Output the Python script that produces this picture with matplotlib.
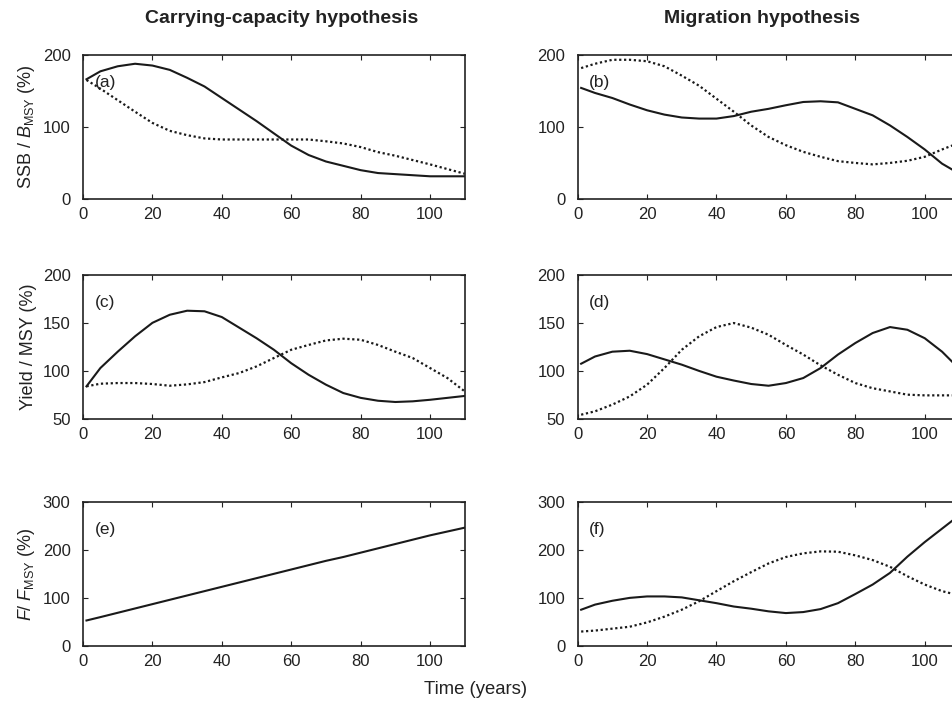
import numpy as np
import matplotlib.pyplot as plt

plt.rcParams['font.family'] = ['Liberation Sans', 'DejaVu Sans']
plt.rcParams['mathtext.fontset'] = 'custom'
plt.rcParams['mathtext.rm'] = 'Liberation Sans'
plt.rcParams['mathtext.it'] = 'Liberation Sans:italic'

# years at which values were read
t = [1, 5, 10, 15, 20, 25, 30, 35, 40, 45, 50, 55, 60, 65, 70, 75, 80, 85, 90, 95, 100, 105, 110]

# (a) SSB / Bmsy, carrying-capacity
a_solid = [166, 177, 184, 187.5, 185, 179, 168, 156, 140, 124, 108, 91, 74, 61, 52, 46, 40, 36, 34.5, 33, 31.5, 31.5, 31.5]
a_dot = [165, 153, 137, 121, 105.5, 94.5, 88.5, 84, 82.5, 82.5, 82.5, 82.5, 82.5, 82.5, 80, 77, 72, 65, 60, 54, 48, 41.5, 35]
# (b) SSB / Bmsy, migration
b_solid = [154, 147, 140, 131, 123, 117, 113, 111.5, 111.5, 115, 121, 125, 130, 134.5, 135.5, 134, 125, 116, 102, 86, 68.7, 49, 35]
b_dot = [181.5, 187.5, 193, 193, 191, 184, 171, 157, 139, 121, 102, 86, 74.6, 65.4, 58.5, 52.5, 50, 48, 50, 53, 58.5, 68.7, 78]
# (c) Yield / MSY, carrying-capacity
c_solid = [84, 103, 120, 136, 150, 158.4, 162.6, 162, 156, 145, 134, 122, 108, 96, 85.7, 77, 72, 69, 67.7, 68.4, 70, 72, 74]
c_dot = [84, 86.7, 87.4, 87.4, 86.4, 84.6, 86, 88.4, 93.3, 97.8, 104.7, 113.4, 122, 127, 131.7, 133.5, 132.4, 127, 120, 113.4, 103, 92.6, 78.7]
# (d) Yield / MSY, migration
d_solid = [107.5, 115, 120, 121, 117.5, 112, 106.5, 100, 94, 90, 86.4, 84.6, 87.4, 92.6, 103, 117, 129, 139.4, 145.6, 142.8, 134, 120, 102]
d_dot = [54.5, 58, 65, 73.5, 85.7, 103, 122, 136, 145.6, 149.8, 145, 137.6, 127, 117, 105.8, 96, 87.4, 82, 78.7, 75.3, 74.6, 74.6, 74.6]
# (e) F / Fmsy, carrying-capacity
e_solid = [53, 60, 69, 78, 87, 96, 105, 114, 123, 132, 141, 150, 159, 168, 177, 185, 194, 203, 212, 221, 230, 238, 246]
# (f) F / Fmsy, migration
f_solid = [75.4, 86, 94, 100, 103, 103, 101, 95, 89, 82, 77.5, 72, 68.4, 70.5, 76.7, 89, 108, 127.7, 152, 185.7, 216, 244, 272]
f_dot = [30, 32, 36, 40, 49, 61, 75.4, 93, 114, 134.7, 153.5, 171.6, 185, 192.6, 196.7, 196, 188.4, 178.6, 164.6, 145, 127.7, 114, 105]

panels = [
    ('(a)', a_solid, a_dot, (0, 200), [0, 100, 200]),
    ('(b)', b_solid, b_dot, (0, 200), [0, 100, 200]),
    ('(c)', c_solid, c_dot, (50, 200), [50, 100, 150, 200]),
    ('(d)', d_solid, d_dot, (50, 200), [50, 100, 150, 200]),
    ('(e)', e_solid, None, (0, 300), [0, 100, 200, 300]),
    ('(f)', f_solid, f_dot, (0, 300), [0, 100, 200, 300]),
]
ylabels = ['SSB / $\\mathit{B}_{\\mathrm{MSY}}$ (%)', 'Yield / MSY (%)',
           '$\\mathit{F}$/ $\\mathit{F}_{\\mathrm{MSY}}$ (%)']

fig = plt.figure(figsize=(9.52, 7.09), dpi=100)
lefts = [0.0872, 0.6068]
bottoms = [0.7193, 0.409, 0.0889]
w, h = 0.401, 0.2035

for i, (lab, ys, yd, ylim, yt) in enumerate(panels):
    row, col = divmod(i, 2)
    ax = fig.add_axes([lefts[col], bottoms[row], w, h])
    ax.plot(t, ys, color='#1a1a1a', lw=1.5)
    if yd is not None:
        ax.plot(t, yd, color='#1a1a1a', lw=1.6, ls=(0, (1, 1.2)))
    ax.set_xlim(0, 110)
    ax.set_ylim(*ylim)
    ax.set_xticks([0, 20, 40, 60, 80, 100])
    ax.set_yticks(yt)
    ax.tick_params(direction='in', top=True, right=True, length=3.5, labelsize=12,
                   colors='#222222')
    ax.tick_params(axis='y', pad=9)
    ax.tick_params(axis='x', pad=6)
    for s in ax.spines.values():
        s.set_linewidth(1.2)
        s.set_color('#222222')
    ax.text(0.03, 0.81, lab, transform=ax.transAxes, fontsize=12.5, va='center', ha='left',
            color='#222222')
    if col == 0:
        ax.set_ylabel(ylabels[row], fontsize=13, color='#222222', labelpad=4)

fig.text(0.296, 0.974, 'Carrying-capacity hypothesis', fontsize=14, fontweight='bold',
         ha='center', va='center', color='#222222')
fig.text(0.80, 0.974, 'Migration hypothesis', fontsize=14, fontweight='bold',
         ha='center', va='center', color='#222222')
fig.text(0.5, 0.027, 'Time (years)', fontsize=13.3, ha='center', va='center', color='#222222')

fig.savefig('out.png', dpi=100)
